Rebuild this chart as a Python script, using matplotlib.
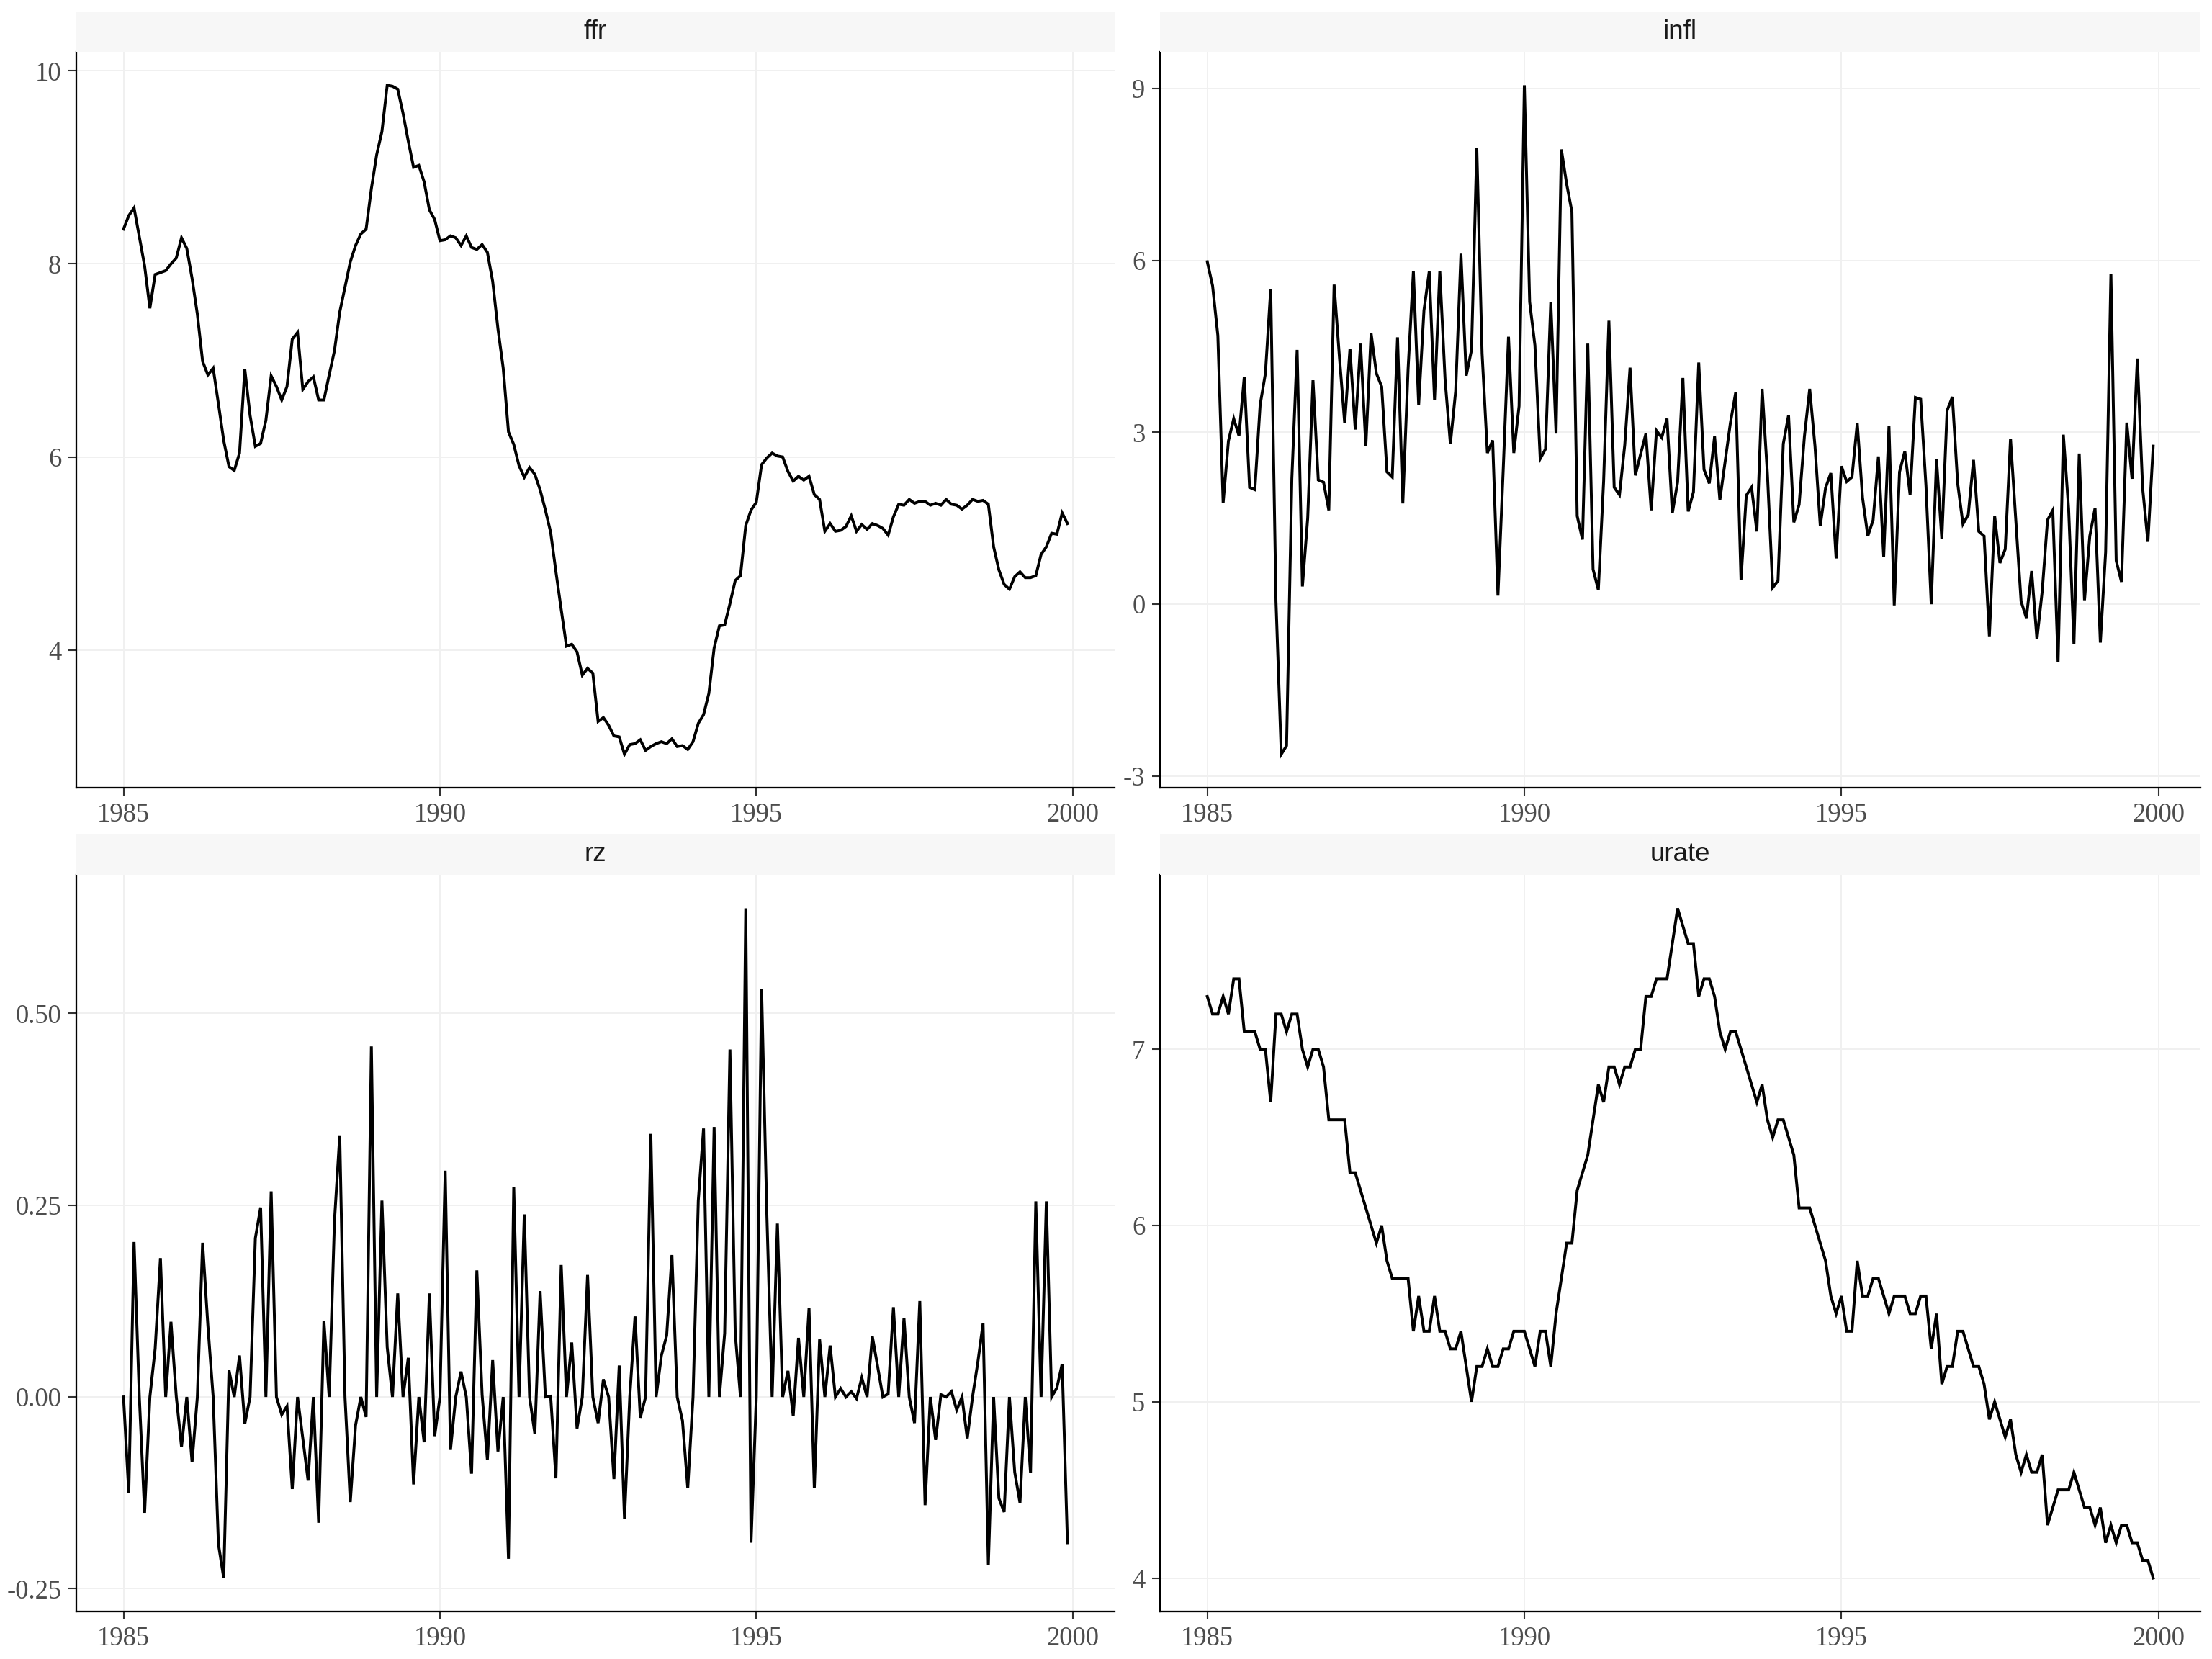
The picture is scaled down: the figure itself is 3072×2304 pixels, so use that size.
import numpy as np
import matplotlib
matplotlib.use("Agg")
import matplotlib.pyplot as plt

# monthly series, Jan 1985 .. Dec 1999
start_year = 1985

ffr = [8.36, 8.50, 8.58, 8.28, 7.98, 7.54, 7.89, 7.91, 7.93, 8.00, 8.06, 8.27,
       8.16, 7.85, 7.48, 6.99, 6.85, 6.92, 6.55, 6.17, 5.90, 5.86, 6.04, 6.91,
       6.43, 6.11, 6.14, 6.38, 6.84, 6.73, 6.59, 6.73, 7.22, 7.29, 6.70, 6.78,
       6.83, 6.59, 6.59, 6.85, 7.10, 7.50, 7.76, 8.02, 8.19, 8.31, 8.36, 8.78,
       9.13, 9.37, 9.85, 9.84, 9.81, 9.56, 9.27, 9.00, 9.02, 8.85, 8.56, 8.46,
       8.24, 8.25, 8.29, 8.27, 8.19, 8.29, 8.17, 8.15, 8.20, 8.12, 7.82, 7.33,
       6.92, 6.26, 6.13, 5.91, 5.79, 5.89, 5.82, 5.66, 5.45, 5.22, 4.81, 4.42,
       4.04, 4.06, 3.98, 3.74, 3.81, 3.76, 3.26, 3.30, 3.22, 3.11, 3.10, 2.92,
       3.02, 3.03, 3.07, 2.96, 3.00, 3.03, 3.05, 3.03, 3.08, 3.00, 3.01, 2.97,
       3.05, 3.24, 3.33, 3.55, 4.02, 4.25, 4.26, 4.48, 4.72, 4.77, 5.29, 5.45,
       5.53, 5.92, 5.99, 6.04, 6.01, 6.00, 5.85, 5.75, 5.80, 5.76, 5.80, 5.61,
       5.56, 5.23, 5.31, 5.23, 5.24, 5.28, 5.39, 5.23, 5.30, 5.25, 5.31, 5.29,
       5.26, 5.19, 5.38, 5.51, 5.50, 5.56, 5.52, 5.54, 5.54, 5.50, 5.52, 5.50,
       5.56, 5.51, 5.50, 5.46, 5.50, 5.56, 5.54, 5.55, 5.51, 5.07, 4.83, 4.68,
       4.63, 4.76, 4.81, 4.75, 4.75, 4.77, 4.99, 5.07, 5.21, 5.20, 5.42, 5.31]

infl = [5.98, 5.56, 4.69, 1.77, 2.85, 3.24, 2.94, 3.97, 2.04, 2.00, 3.48, 4.03,
        5.50, 0.05, -2.62, -2.47, 2.19, 4.44, 0.31, 1.50, 3.91, 2.17, 2.13, 1.64,
        5.58, 4.32, 3.16, 4.46, 3.05, 4.55, 2.76, 4.73, 4.03, 3.80, 2.31, 2.22,
        4.66, 1.76, 4.11, 5.81, 3.48, 5.13, 5.81, 3.57, 5.82, 3.92, 2.80, 3.72,
        6.12, 3.99, 4.44, 7.96, 4.38, 2.64, 2.86, 0.15, 2.35, 4.67, 2.64, 3.46,
        9.06, 5.28, 4.52, 2.54, 2.71, 5.28, 2.98, 7.94, 7.34, 6.85, 1.54, 1.13,
        4.55, 0.61, 0.25, 2.15, 4.95, 2.04, 1.91, 2.78, 4.13, 2.25, 2.62, 2.98,
        1.64, 3.03, 2.91, 3.24, 1.59, 2.13, 3.95, 1.62, 1.96, 4.22, 2.35, 2.11,
        2.93, 1.82, 2.50, 3.17, 3.70, 0.43, 1.90, 2.04, 1.27, 3.76, 2.27, 0.29,
        0.41, 2.80, 3.30, 1.43, 1.74, 2.93, 3.76, 2.76, 1.37, 2.03, 2.29, 0.80,
        2.41, 2.14, 2.22, 3.16, 1.86, 1.19, 1.47, 2.58, 0.83, 3.11, -0.02, 2.31,
        2.67, 1.91, 3.61, 3.58, 2.07, 0.00, 2.53, 1.14, 3.38, 3.62, 2.11, 1.40,
        1.56, 2.52, 1.27, 1.19, -0.56, 1.54, 0.72, 0.96, 2.89, 1.46, 0.05, -0.24,
        0.58, -0.61, 0.23, 1.47, 1.64, -1.01, 2.96, 1.66, -0.69, 2.63, 0.07, 1.19,
        1.68, -0.67, 0.91, 5.77, 0.76, 0.39, 3.17, 2.19, 4.29, 2.03, 1.09, 2.76]

rz = [0.000, -0.125, 0.202, 0.000, -0.151, 0.000, 0.063, 0.181, 0.000, 0.098, 0.001, -0.065,
      0.000, -0.085, 0.000, 0.201, 0.093, 0.000, -0.192, -0.236, 0.035, 0.000, 0.054, -0.035,
      0.000, 0.207, 0.247, 0.000, 0.268, 0.000, -0.023, -0.012, -0.120, 0.000, -0.054, -0.109,
      0.000, -0.164, 0.099, 0.000, 0.229, 0.341, 0.000, -0.137, -0.037, 0.000, -0.026, 0.457,
      0.000, 0.256, 0.065, 0.000, 0.135, 0.000, 0.051, -0.114, 0.000, -0.059, 0.135, -0.051,
      0.000, 0.295, -0.069, 0.000, 0.033, 0.000, -0.100, 0.165, 0.003, -0.082, 0.048, -0.071,
      0.000, -0.211, 0.274, 0.000, 0.238, 0.000, -0.048, 0.138, 0.000, 0.001, -0.106, 0.172,
      0.000, 0.071, -0.041, 0.000, 0.159, 0.000, -0.034, 0.023, 0.000, -0.107, 0.041, -0.159,
      0.000, 0.105, -0.027, 0.000, 0.343, 0.000, 0.054, 0.080, 0.185, 0.000, -0.031, -0.119,
      0.000, 0.256, 0.350, 0.000, 0.352, 0.000, 0.083, 0.453, 0.083, 0.000, 0.637, -0.190,
      0.000, 0.532, 0.238, 0.000, 0.226, 0.000, 0.034, -0.025, 0.077, 0.000, 0.116, -0.119,
      0.075, 0.000, 0.067, 0.000, 0.011, 0.000, 0.007, -0.002, 0.025, 0.000, 0.079, 0.040,
      0.000, 0.004, 0.117, 0.000, 0.103, 0.000, -0.034, 0.125, -0.141, 0.000, -0.056, 0.003,
      0.000, 0.007, -0.017, 0.000, -0.054, 0.000, 0.045, 0.096, -0.219, 0.000, -0.132, -0.150,
      0.000, -0.098, -0.138, 0.000, -0.099, 0.255, 0.000, 0.255, 0.000, 0.012, 0.043, -0.190]

urate = [7.3, 7.2, 7.2, 7.3, 7.2, 7.4, 7.4, 7.1, 7.1, 7.1, 7.0, 7.0,
         6.7, 7.2, 7.2, 7.1, 7.2, 7.2, 7.0, 6.9, 7.0, 7.0, 6.9, 6.6,
         6.6, 6.6, 6.6, 6.3, 6.3, 6.2, 6.1, 6.0, 5.9, 6.0, 5.8, 5.7,
         5.7, 5.7, 5.7, 5.4, 5.6, 5.4, 5.4, 5.6, 5.4, 5.4, 5.3, 5.3,
         5.4, 5.2, 5.0, 5.2, 5.2, 5.3, 5.2, 5.2, 5.3, 5.3, 5.4, 5.4,
         5.4, 5.3, 5.2, 5.4, 5.4, 5.2, 5.5, 5.7, 5.9, 5.9, 6.2, 6.3,
         6.4, 6.6, 6.8, 6.7, 6.9, 6.9, 6.8, 6.9, 6.9, 7.0, 7.0, 7.3,
         7.3, 7.4, 7.4, 7.4, 7.6, 7.8, 7.7, 7.6, 7.6, 7.3, 7.4, 7.4,
         7.3, 7.1, 7.0, 7.1, 7.1, 7.0, 6.9, 6.8, 6.7, 6.8, 6.6, 6.5,
         6.6, 6.6, 6.5, 6.4, 6.1, 6.1, 6.1, 6.0, 5.9, 5.8, 5.6, 5.5,
         5.6, 5.4, 5.4, 5.8, 5.6, 5.6, 5.7, 5.7, 5.6, 5.5, 5.6, 5.6,
         5.6, 5.5, 5.5, 5.6, 5.6, 5.3, 5.5, 5.1, 5.2, 5.2, 5.4, 5.4,
         5.3, 5.2, 5.2, 5.1, 4.9, 5.0, 4.9, 4.8, 4.9, 4.7, 4.6, 4.7,
         4.6, 4.6, 4.7, 4.3, 4.4, 4.5, 4.5, 4.5, 4.6, 4.5, 4.4, 4.4,
         4.3, 4.4, 4.2, 4.3, 4.2, 4.3, 4.3, 4.2, 4.2, 4.1, 4.1, 4.0]

x_ticks = [1985, 1990, 1995, 2000]
panels = [
    ("ffr", ffr, [4, 6, 8, 10], ["4", "6", "8", "10"]),
    ("infl", infl, [-3, 0, 3, 6, 9], ["-3", "0", "3", "6", "9"]),
    ("rz", rz, [-0.25, 0.0, 0.25, 0.5], ["-0.25", "0.00", "0.25", "0.50"]),
    ("urate", urate, [4, 5, 6, 7], ["4", "5", "6", "7"]),
]

W, H = 3072, 2304
dpi = 300
fig = plt.figure(figsize=(W / dpi, H / dpi), dpi=dpi)
fig.patch.set_facecolor("white")

# pixel boxes (left, right) / (strip top, axes top, axes bottom)
cols = [(106, 1548), (1611, 3056)]
rows = [(16, 72, 1094), (1158, 1215, 2238)]

dates = start_year + np.arange(len(ffr)) / 12.0
xpad = 0.05 * (dates[-1] - dates[0])


def draw_panel(k, name, values, yt, ylab):
    c, r = k % 2, k // 2
    left, right = cols[c]
    s_top, a_top, a_bot = rows[r]
    ax = fig.add_axes([left / W, 1 - a_bot / H, (right - left) / W, (a_bot - a_top) / H])
    st = fig.add_axes([left / W, 1 - a_top / H, (right - left) / W, (a_top - s_top) / H])

    ax.plot(dates, values, color="black", lw=0.95, solid_joinstyle="miter")
    lo, hi = min(values), max(values)
    ypad = 0.05 * (hi - lo)
    ax.set_ylim(lo - ypad, hi + ypad)
    ax.set_xlim(dates[0] - xpad, dates[-1] + xpad)

    ax.set_xticks(x_ticks)
    ax.set_xticklabels([str(t) for t in x_ticks])
    ax.set_yticks(yt)
    ax.set_yticklabels(ylab)
    ax.grid(True, color="#F0F0F0", lw=0.45)
    ax.set_axisbelow(True)
    for side in ("top", "right"):
        ax.spines[side].set_visible(False)
    for side in ("left", "bottom"):
        ax.spines[side].set_color("black")
        ax.spines[side].set_linewidth(0.55)
    ax.tick_params(length=2.75, width=0.5, color="#333333", pad=2.2,
                   labelsize=8.8, labelcolor="#4D4D4D")
    for lab in ax.get_xticklabels() + ax.get_yticklabels():
        lab.set_family(["Liberation Serif", "DejaVu Serif"])

    st.set_facecolor("#F7F7F7")
    st.set_xticks([])
    st.set_yticks([])
    for sp in st.spines.values():
        sp.set_visible(False)
    st.text(0.5, 0.5, name, ha="center", va="center", fontsize=8.8,
            color="#1A1A1A", family=["Liberation Sans", "DejaVu Sans"],
            transform=st.transAxes)


for k, (name, vals, yt, ylab) in enumerate(panels):
    draw_panel(k, name, vals, yt, ylab)

fig.savefig("out.png", dpi=dpi, facecolor="white")
